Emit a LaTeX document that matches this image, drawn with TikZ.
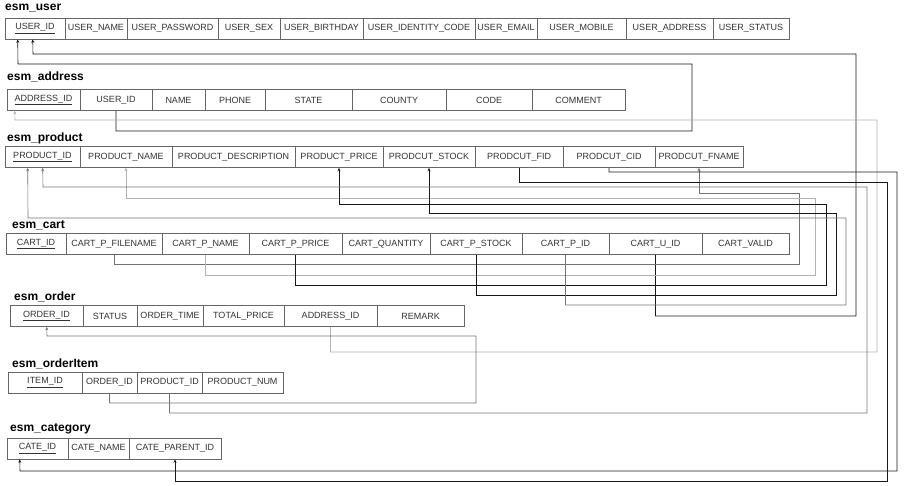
\documentclass[tikz,border=0pt]{standalone}
\usepackage{fontspec}
\setmainfont{Liberation Sans}
\usepackage{tikz}
\usetikzlibrary{arrows.meta}

\tikzset{
    cell/.style={draw=black!60, line width=0.6pt, minimum height=21pt, inner sep=0pt,
        text=black!80, font=\fontsize{9}{10}\selectfont},
    tbl/.style={anchor=west, inner sep=0pt, font=\fontsize{12}{14}\selectfont\bfseries},
    fk/.style={draw=black!90, line width=0.6pt, -{Stealth[length=3.5pt, width=3pt]}},
    fkmid/.style={fk, draw=black!55},
    fklight/.style={fk, draw=black!30},
}

\begin{document}
\begin{tikzpicture}[x=1pt, y=-1pt]
        \useasboundingbox (0,0) rectangle (904,486);

        \node[tbl] (tuser) at (5,8) {esm\_user};
        \node[cell, minimum width=60pt] (uid) at (35,28.5) {\underline{USER\_ID}};
        \node[cell, minimum width=62pt] (uname) at (96,28.5) {USER\_NAME};
        \node[cell, minimum width=91pt] (upass) at (172.5,28.5) {USER\_PASSWORD};
        \node[cell, minimum width=62pt] (usex) at (249,28.5) {USER\_SEX};
        \node[cell, minimum width=83pt] (ubirth) at (321.5,28.5) {USER\_BIRTHDAY};
        \node[cell, minimum width=112pt] (uidc) at (419,28.5) {USER\_IDENTITY\_CODE};
        \node[cell, minimum width=62pt] (uemail) at (506,28.5) {USER\_EMAIL};
        \node[cell, minimum width=89pt] (umobile) at (581.5,28.5) {USER\_MOBILE};
        \node[cell, minimum width=87pt] (uaddr) at (669.5,28.5) {USER\_ADDRESS};
        \node[cell, minimum width=76pt] (ustatus) at (751,28.5) {USER\_STATUS};

        \node[tbl] (taddress) at (7,77) {esm\_address};
        \node[cell, minimum width=73pt] (aaid) at (43.5,100) {\underline{ADDRESS\_ID}};
        \node[cell, minimum width=72pt] (auid) at (116,100) {USER\_ID};
        \node[cell, minimum width=53pt] (aname) at (178.5,100) {NAME};
        \node[cell, minimum width=60pt] (aphone) at (235,100) {PHONE};
        \node[cell, minimum width=87pt] (astate) at (308.5,100) {STATE};
        \node[cell, minimum width=94pt] (acounty) at (399,100) {COUNTY};
        \node[cell, minimum width=86pt] (acode) at (489,100) {CODE};
        \node[cell, minimum width=93pt] (acomment) at (578.5,100) {COMMENT};

        \node[tbl] (tproduct) at (7,138) {esm\_product};
        \node[cell, minimum width=75pt] (pid) at (42.5,157) {\underline{PRODUCT\_ID}};
        \node[cell, minimum width=92pt] (pname) at (126,157) {PRODUCT\_NAME};
        \node[cell, minimum width=123pt] (pdesc) at (233.5,157) {PRODUCT\_DESCRIPTION};
        \node[cell, minimum width=88pt] (pprice) at (339,157) {PRODUCT\_PRICE};
        \node[cell, minimum width=92pt] (pstock) at (429,157) {PRODCUT\_STOCK};
        \node[cell, minimum width=88pt] (pfid) at (519,157) {PRODCUT\_FID};
        \node[cell, minimum width=92pt] (pcid) at (609,157) {PRODCUT\_CID};
        \node[cell, minimum width=88pt] (pfname) at (699,157) {PRODCUT\_FNAME};

        \node[tbl] (tcart) at (12,225) {esm\_cart};
        \node[cell, minimum width=60pt] (crtid) at (36,244) {\underline{CART\_ID}};
        \node[cell, minimum width=96pt] (cpfn) at (114,244) {CART\_P\_FILENAME};
        \node[cell, minimum width=87pt] (cpname) at (205.5,244) {CART\_P\_NAME};
        \node[cell, minimum width=93pt] (cpprice) at (295.5,244) {CART\_P\_PRICE};
        \node[cell, minimum width=88pt] (cqty) at (386,244) {CART\_QUANTITY};
        \node[cell, minimum width=92pt] (cpstock) at (476,244) {CART\_P\_STOCK};
        \node[cell, minimum width=87pt] (cpid) at (565.5,244) {CART\_P\_ID};
        \node[cell, minimum width=93pt] (cuid) at (655.5,244) {CART\_U\_ID};
        \node[cell, minimum width=87pt] (cvalid) at (745.5,244) {CART\_VALID};

        \node[tbl] (torder) at (14,297) {esm\_order};
        \node[cell, minimum width=73pt] (oid) at (46.5,316) {\underline{ORDER\_ID}};
        \node[cell, minimum width=54pt] (ostatus) at (110,316) {STATUS};
        \node[cell, minimum width=66pt] (otime) at (170,316) {ORDER\_TIME};
        \node[cell, minimum width=81pt] (ototal) at (243.5,316) {TOTAL\_PRICE};
        \node[cell, minimum width=93pt] (oaid) at (330.5,316) {ADDRESS\_ID};
        \node[cell, minimum width=87pt] (oremark) at (420.5,316) {REMARK};

        \node[tbl] (titem) at (12,364) {esm\_orderItem};
        \node[cell, minimum width=74pt] (iid) at (45,382.5) {\underline{ITEM\_ID}};
        \node[cell, minimum width=55pt] (ioid) at (109.5,382.5) {ORDER\_ID};
        \node[cell, minimum width=65pt] (ipid) at (169.5,382.5) {PRODUCT\_ID};
        \node[cell, minimum width=81pt] (inum) at (242.5,382.5) {PRODUCT\_NUM};

        \node[tbl] (tcategory) at (10,429) {esm\_category};
        \node[cell, minimum width=61pt] (ctid) at (37.5,448.5) {\underline{CATE\_ID}};
        \node[cell, minimum width=61pt] (ctname) at (98.5,448.5) {CATE\_NAME};
        \node[cell, minimum width=92pt] (ctpar) at (175,448.5) {CATE\_PARENT\_ID};

        \draw[fk] (auid.south) |- (692,131) |- (18,64) -- ([xshift=13pt]uid.south west);
        \draw[fk] (cuid.south) |- (856,316) |- (33,54) -- ([xshift=28pt]uid.south west);
        \draw[fklight] (oaid.south) |- (877,352) |- (15,120) -- ([xshift=8pt]aaid.south west);
        \draw[fkmid] (cpfn.south) |- (799,264) |- (699,193) -- (pfname.south);
        \draw[fklight] (cpname.south) |- (815,275) |- (126,198) -- (pname.south);
        \draw[fk] (cpprice.south) |- (826,285) |- (339,204) -- (pprice.south);
        \draw[fk] (cpstock.south) |- (836,295) |- (429,213) -- (pstock.south);
        \draw[fkmid] (cpid.south) |- (846,305) |- (28,218) -- ([xshift=23pt]pid.south west);
        \draw[fkmid] (ipid.south) |- (867,413) |- (43,187) -- ([xshift=38pt]pid.south west);
        \draw[fkmid] (ioid.south) |- (476,403) |- (47,336) -- ([xshift=37pt]oid.south west);
        \draw[fk] (pcid.south) |- (897,172) |- (20,471) -- ([xshift=13pt]ctid.south west);
        \draw[fk] (pfid.south) |- (887,182) |- (175,481) -- (ctpar.south);
\end{tikzpicture}
\end{document}
